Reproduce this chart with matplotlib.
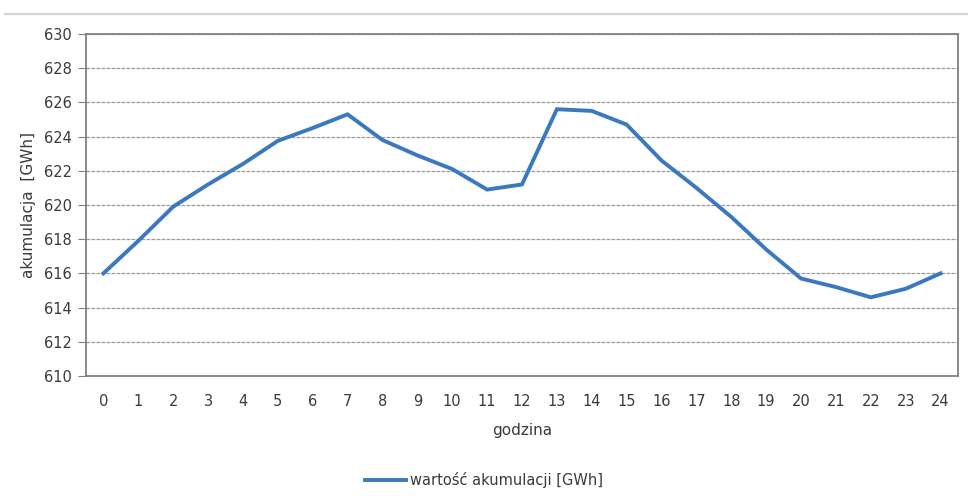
import matplotlib
matplotlib.use("Agg")
import matplotlib.pyplot as plt
from matplotlib.lines import Line2D

hours = list(range(25))
values = [616.0, 617.9, 619.9, 621.2, 622.4, 623.75, 624.5, 625.3, 623.8, 622.9,
          622.1, 620.9, 621.2, 625.6, 625.5, 624.7, 622.6, 621.0, 619.3, 617.4,
          615.7, 615.2, 614.6, 615.1, 616.0]
yticks = list(range(610, 631, 2))
series_label = "wartość akumulacji [GWh]"

fig = plt.figure(figsize=(9.68, 5.03), dpi=100)
fig.add_artist(Line2D([0.005, 1.0], [0.972, 0.972], color="#d4d4d4", lw=1.6, transform=fig.transFigure))
ax = fig.add_axes([0.0888, 0.2525, 0.9009, 0.68])
line, = ax.plot(hours, values, color="#3a78c0", lw=2.8, solid_joinstyle="miter", label=series_label)
ax.set_xlim(-0.5, 24.5)
ax.set_ylim(610, 630)
ax.set_yticks(yticks)
ax.set_xticks(hours)
ax.grid(axis="y", color="#9a9a9a", lw=0.9, linestyle=(0, (3, 1)))
ax.set_axisbelow(True)
for s in ax.spines.values():
    s.set_color("#808080")
    s.set_linewidth(1.3)
ax.tick_params(axis="y", length=6, color="#808080", labelsize=10.5, labelcolor="#3a3a3a", pad=4)
ax.tick_params(axis="x", length=0, labelsize=10.5, labelcolor="#3a3a3a", pad=13)
ax.set_xlabel("godzina", fontsize=11, color="#3a3a3a", labelpad=10)
ax.set_ylabel("akumulacja  [GWh]", fontsize=11, color="#3a3a3a", labelpad=6)
fig.legend(handles=[line], loc="center", bbox_to_anchor=(0.5, 0.045), frameon=False,
           fontsize=10.5, labelcolor="#3a3a3a", handlelength=2.8, handletextpad=0.3)
fig.savefig("out.png", dpi=100)
